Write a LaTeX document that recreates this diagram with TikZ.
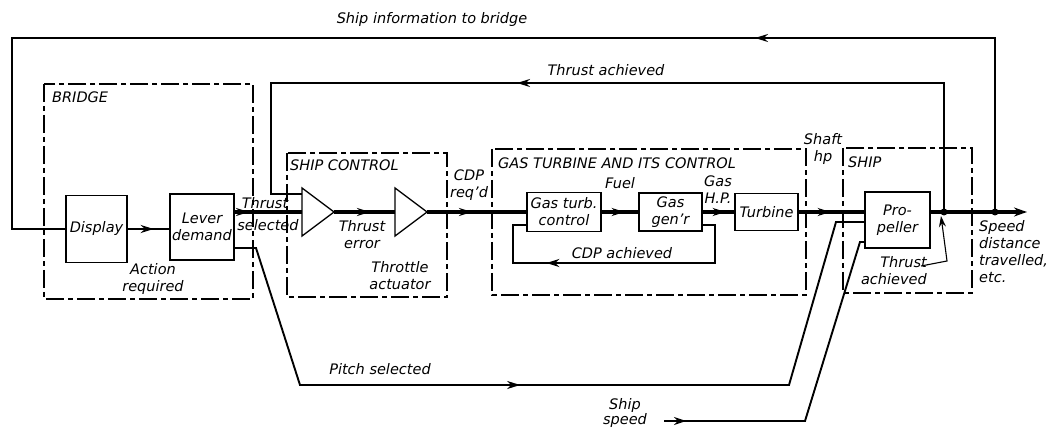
\documentclass[tikz,border=0pt]{standalone}
\usepackage{fontspec}
\setmainfont{DejaVu Sans}
\usetikzlibrary{arrows.meta,decorations.markings}
\begin{document}
\begin{tikzpicture}[x=1pt,y=-1pt,
  every node/.style={font=\fontsize{14.5}{17}\selectfont\itshape, inner sep=0pt},
  blk/.style={draw, line width=1.3pt, align=center},
  frame/.style={line width=1.1pt, dash pattern=on 18pt off 4pt on 5pt off 4pt},
  main/.style={line width=3.3pt},
  fb/.style={line width=1.9pt},
  tri/.style={line width=1.3pt, line join=miter},
  dot/.style={circle, fill, minimum size=7pt, inner sep=0pt},
  arrowat/.style={postaction={decorate}, decoration={markings,
     mark=at position #1pt with {\arrow{Stealth[length=13pt,width=8pt]}}}},
  openat/.style={postaction={decorate}, decoration={markings,
     mark=at position #1pt with {\arrow{Stealth[open,length=12pt,width=8pt,line width=1.2pt]}}}},
]
\useasboundingbox (0,0) rectangle (1057,430);

% frames
\draw[frame] (44,84) rectangle (253,299);
\draw[frame] (287,153) rectangle (447,297);
\draw[frame] (492,149) rectangle (806,295);
\draw[frame] (843,148) rectangle (972,293);

% blocks
\node[blk, minimum width=61pt, minimum height=67pt] (display) at (96.5,229) {Display};
\node[blk, minimum width=64pt, minimum height=66pt] (lever) at (202,227) {Lever\\demand};
\node[blk, minimum width=74pt, minimum height=39pt] (gtc) at (564,212) {Gas turb.\\control};
\node[blk, minimum width=63pt, minimum height=38pt] (gg) at (670.5,212) {Gas\\gen'r};
\node[blk, minimum width=63pt, minimum height=37pt] (turb) at (766.5,212) {Turbine};
\node[blk, minimum width=65pt, minimum height=56pt] (prop) at (897.5,220) {Pro-\\peller};

% amplifiers
\draw[tri] (302,188) coordinate (t1a) -- (334,212) coordinate (t1o) -- (302,236) -- cycle;
\coordinate (t1i) at (302,212);
\coordinate (t1f) at (302,194);
\draw[tri] (395,188) coordinate (t2a) -- (427,212) coordinate (t2o) -- (395,236) -- cycle;
\coordinate (t2i) at (395,212);

% connection points
\coordinate (lvM) at (234,212);
\coordinate (lvP) at (234,248);
\coordinate (prM) at (865,212);
\coordinate (prP) at (865,222);
\coordinate (prS) at (865,242);
\node[dot] (d1) at (944,212) {};
\node[dot] (d2) at (995,212) {};
\coordinate (out) at (1027,212);
\coordinate (ss) at (664,421);
\coordinate (taS) at (921,266);

% main path
\draw[fb, arrowat=26] (display.east) -- (display.east -| lever.west);
\draw[main, arrowat=15] (lvM) -- (t1i);
\draw[main, arrowat=36] (t1o) -- (t2i);
\draw[main, arrowat=45] (t2o) -- (gtc.west);
\draw[main, arrowat=23] (gtc.east) -- (gg.west);
\draw[main, arrowat=23] (gg.east) -- (turb.west);
\draw[main, arrowat=32] (turb.east) -- (prM);
\draw[main, -{Stealth[length=13pt,width=9pt]}] (prop.east |- prM) -- (out);

% feedback loops
\draw[fb, arrowat=556] (d1.center) -- (944,83) -- (271,83) -- (271,194) -- (t1f);
\draw[fb, arrowat=414] (d2.center) -- (995,38) -- (12,38) -- (12,229) -- (display.west);
\draw[fb, arrowat=219] (gg.east |- 0,225) -- (715,225) -- (715,263) -- (513,263) -- (513,225) -- (gtc.west |- 0,225);

% pitch and ship speed
\draw[fb, arrowat=386] (lvP) -- (256,248) -- (300,385) -- (789,385) -- (836,222) -- (prP);
\draw[fb, openat=22] (ss) -- (805,421) -- (860,242) -- (prS);

% thrust achieved pointer
\draw[line width=1.1pt, -{Stealth[length=11pt,width=7pt]}] (taS) -- (947,261) -- (941,216);

% labels
\node (linfo) at (432,20) {Ship information to bridge};
\node (ltach) at (606,70) {Thrust achieved};
\node[anchor=west] (lbridge) at (52,97) {BRIDGE};
\node (lts1) at (265,203) {Thrust};
\node (lts2) at (268,225) {selected};
\node[align=center] (lact) at (153,279) {Action\\required};
\node[anchor=west] (lsc) at (290,165) {SHIP CONTROL};
\node[align=center] (lte) at (362,235) {Thrust\\error};
\node[align=center] (lthr) at (400,276) {Throttle\\actuator};
\node[align=center] (lcdp) at (469,185) {CDP\\req'd};
\node[anchor=west] (lgt) at (498,163) {GAS TURBINE AND ITS CONTROL};
\node (lfuel) at (620,183) {Fuel};
\node[align=center] (lgas) at (718,190) {Gas\\H.P.};
\node (lcdpa) at (622,253) {CDP achieved};
\node[align=center] (lshaft) at (823,149) {Shaft\\hp};
\node[anchor=west] (lship) at (848,162) {SHIP};
\node[align=right, anchor=east] (lta) at (927,271) {Thrust\\achieved};
\node (lps) at (380,369) {Pitch selected};
\node[align=center, font=\fontsize{14.5}{15}\selectfont\itshape] (lss) at (625,413) {Ship\\speed};
\node[align=left, anchor=west] (lspeed) at (979,252) {Speed\\distance\\travelled,\\etc.};
\end{tikzpicture}
\end{document}
